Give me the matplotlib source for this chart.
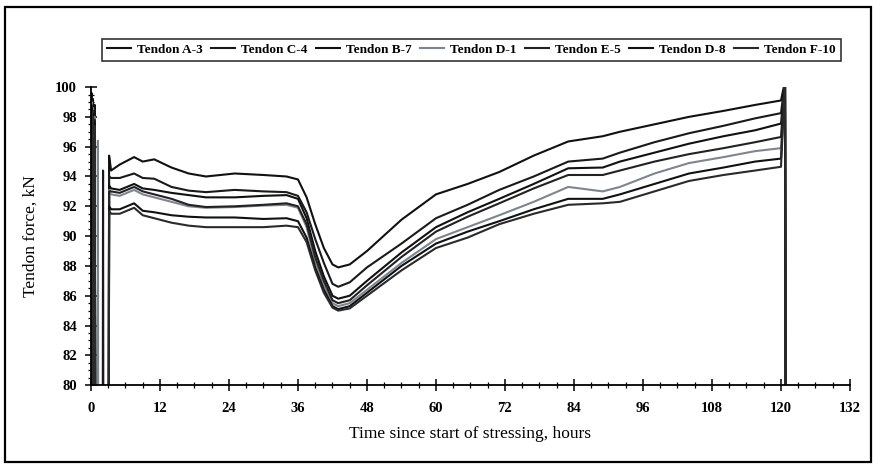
import matplotlib
matplotlib.use("Agg")
import matplotlib.pyplot as plt
from matplotlib.patches import Rectangle
from matplotlib.ticker import MultipleLocator

plt.rcParams["font.family"] = ["Liberation Serif", "DejaVu Serif"]

# hours since start of stressing
hours = [3.5, 5, 7.5, 9, 11, 14, 17, 20, 25, 30, 34, 36, 37.5, 39, 40.5, 42, 43, 45,
         48, 54, 60, 65.5, 71, 77, 83, 89, 92, 98, 104, 110, 115.5, 120]

# stressing spikes at the start and release at the end (values below 80 are off axis)
early_hours = [0.0, 0.1, 0.2, 0.35, 0.5, 0.65, 0.8, 1.1, 1.2, 1.3, 2.0, 2.1, 2.2, 3.05, 3.15]
end_hours = [120.7, 120.9]
end_force = [100.4, 60]

names = ["Tendon A-3", "Tendon C-4", "Tendon B-7", "Tendon D-1",
         "Tendon E-5", "Tendon D-8", "Tendon F-10"]
colors = ["#111111", "#1a1a1a", "#111111", "#7d8590", "#222222", "#111111", "#2a2a2a"]

early = {
    "Tendon A-3": [60, 99.6, 60, 99.2, 60, 98.8, 60, 60, 60, 60, 60, 60, 60, 60, 95.4],
    "Tendon C-4": [60, 99.4, 60, 99.0, 60, 98.5, 60, 60, 60, 60, 60, 94.4, 60, 60, 94.0],
    "Tendon B-7": [60, 99.2, 60, 98.8, 60, 98.2, 60, 60, 60, 60, 60, 60, 60, 60, 93.4],
    "Tendon D-1": [60, 99.0, 60, 98.6, 60, 98.0, 60, 60, 96.4, 60, 60, 60, 60, 60, 93.1],
    "Tendon E-5": [60, 98.8, 60, 98.4, 60, 97.8, 60, 60, 60, 60, 60, 60, 60, 60, 93.0],
    "Tendon D-8": [60, 98.6, 60, 98.2, 60, 97.6, 60, 60, 60, 60, 60, 60, 60, 60, 92.0],
    "Tendon F-10": [60, 98.4, 60, 98.0, 60, 97.4, 60, 60, 60, 60, 60, 60, 60, 60, 91.7],
}

force = {
    "Tendon A-3": [94.4, 94.8, 95.3, 95.0, 95.15, 94.6, 94.2, 94.0, 94.2, 94.1, 94.0, 93.8,
                   92.6, 90.8, 89.2, 88.1, 87.9, 88.1, 89.0, 91.1, 92.8, 93.5, 94.3, 95.4,
                   96.35, 96.7, 97.0, 97.5, 98.0, 98.4, 98.8, 99.1],
    "Tendon C-4": [93.9, 93.9, 94.2, 93.9, 93.85, 93.3, 93.05, 92.95, 93.1, 93.0, 92.95, 92.7,
                   91.6, 89.8, 88.2, 86.8, 86.6, 86.9, 87.9, 89.5, 91.2, 92.1, 93.1, 94.0,
                   95.0, 95.2, 95.6, 96.3, 96.9, 97.4, 97.9, 98.25],
    "Tendon B-7": [93.2, 93.1, 93.5, 93.2, 93.1, 92.9, 92.75, 92.6, 92.6, 92.7, 92.75, 92.5,
                   91.2, 89.0, 87.3, 86.0, 85.8, 86.0, 87.0, 88.9, 90.6, 91.6, 92.5, 93.5,
                   94.55, 94.6, 95.0, 95.6, 96.2, 96.7, 97.1, 97.55],
    "Tendon D-1": [92.8, 92.7, 93.1, 92.8, 92.6, 92.3, 92.0, 91.9, 91.95, 92.05, 92.1, 91.9,
                   90.6, 88.3, 86.7, 85.5, 85.3, 85.5, 86.4, 88.2, 89.8, 90.6, 91.4, 92.3,
                   93.3, 93.0, 93.3, 94.2, 94.9, 95.3, 95.7, 95.9],
    "Tendon E-5": [93.0, 92.9, 93.3, 93.0, 92.8, 92.5, 92.1, 91.95, 92.0, 92.1, 92.2, 92.0,
                   90.8, 88.6, 87.0, 85.7, 85.5, 85.7, 86.7, 88.6, 90.3, 91.3, 92.2, 93.2,
                   94.1, 94.1, 94.4, 95.0, 95.5, 95.9, 96.3, 96.65],
    "Tendon D-8": [91.8, 91.8, 92.2, 91.7, 91.6, 91.4, 91.3, 91.25, 91.25, 91.15, 91.2, 91.0,
                   89.9, 87.9, 86.4, 85.3, 85.1, 85.3, 86.2, 88.0, 89.5, 90.3, 91.0, 91.8,
                   92.5, 92.5, 92.8, 93.5, 94.2, 94.6, 95.0, 95.2],
    "Tendon F-10": [91.5, 91.5, 91.9, 91.4, 91.2, 90.9, 90.7, 90.6, 90.6, 90.6, 90.7, 90.6,
                    89.6, 87.7, 86.2, 85.2, 85.0, 85.15, 86.0, 87.7, 89.2, 89.9, 90.8, 91.5,
                    92.1, 92.2, 92.3, 93.0, 93.7, 94.1, 94.4, 94.65],
}

fig = plt.figure(figsize=(8.79, 4.68), dpi=100)
ax = fig.add_axes([0.1035, 0.177, 0.8635, 0.637])

for name, col in zip(names, colors):
    t = early_hours + hours + end_hours
    v = early[name] + force[name] + end_force
    ax.plot(t, v, color=col, lw=1.5, label=name)

ax.set_xlim(0, 132)
ax.set_ylim(80, 100)
ax.xaxis.set_major_locator(MultipleLocator(12))
ax.xaxis.set_minor_locator(MultipleLocator(3))
ax.yaxis.set_major_locator(MultipleLocator(2))
ax.yaxis.set_minor_locator(MultipleLocator(0.5))
ax.tick_params(which="major", direction="inout", length=8, width=1.1, labelsize=10.5, pad=6)
ax.tick_params(which="minor", direction="inout", length=4, width=0.9)
ax.tick_params(axis="x", which="major", pad=8)
for lab in ax.get_xticklabels() + ax.get_yticklabels():
    lab.set_fontweight("bold")
ax.spines["top"].set_visible(False)
ax.spines["right"].set_visible(False)
ax.spines["left"].set_linewidth(1.3)
ax.spines["bottom"].set_linewidth(1.3)

ax.set_xlabel("Time since start of stressing, hours", fontsize=12.5, labelpad=8)
ax.set_ylabel("Tendon force, kN", fontsize=12.5, labelpad=12)

leg = fig.legend(loc="center", ncol=7, mode="expand",
                 bbox_to_anchor=(95 / 879, 1 - 62 / 468, 753 / 879, 24 / 468),
                 fontsize=9.5, frameon=True, fancybox=False, edgecolor="black",
                 handlelength=1.8, handletextpad=0.5, columnspacing=0.8, borderpad=0.4)
leg.get_frame().set_linewidth(1.2)
for txt in leg.get_texts():
    txt.set_fontweight("bold")

fig.patches.append(Rectangle((5 / 879, 1 - 462 / 468), 866 / 879, 455 / 468,
                             transform=fig.transFigure, fill=False, lw=1.6,
                             edgecolor="black"))

fig.savefig("out.png", dpi=100)
plt.close()
